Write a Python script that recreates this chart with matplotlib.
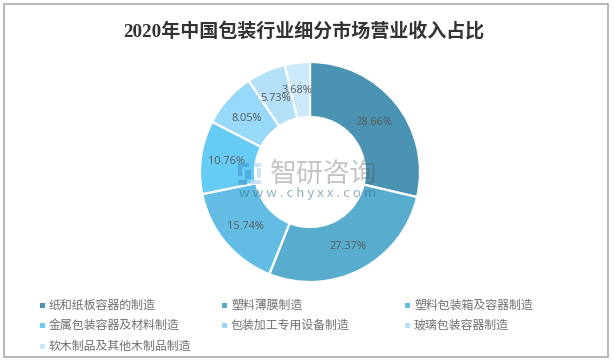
import math
import matplotlib
matplotlib.use("Agg")
import matplotlib.pyplot as plt
from matplotlib.patches import Rectangle

plt.rcParams['font.family'] = ['Noto Sans CJK SC', 'DejaVu Sans']

title = "2020年中国包装行业细分市场营业收入占比"
categories = ["纸和纸板容器的制造", "塑料薄膜制造", "塑料包装箱及容器制造", "金属包装容器及材料制造",
              "包装加工专用设备制造", "玻璃包装容器制造", "软木制品及其他木制品制造"]
values = [28.66, 27.37, 15.74, 10.76, 8.05, 5.73, 3.68]
colors = ["#4A93B3", "#58ADCE", "#62BCE3", "#66CCF6", "#98D8F8", "#B5E0F9", "#CBE9FB"]

W, H = 614, 362
fig = plt.figure(figsize=(W / 100, H / 100), dpi=100, facecolor="white")

bg = fig.add_axes([0, 0, 1, 1])
bg.set_xlim(0, W)
bg.set_ylim(H, 0)
bg.axis("off")
bg.add_patch(Rectangle((3.5, 4), 604, 353, fill=False, ec="#ABABAB", lw=1.2))
bg.text(304, 32, title, ha="center", va="center", fontsize=13.7,
        fontweight="bold", color="#333333", family=['Liberation Serif', 'Noto Sans CJK SC'])

# Donut: centre (310,172), outer radius 110 px
R = 110
ax = fig.add_axes([(310 - R) / W, 1 - (172 + R) / H, 2 * R / W, 2 * R / H])
wedges, texts = ax.pie(values, colors=colors, startangle=90, counterclock=False, radius=1,
                       wedgeprops=dict(width=0.5, edgecolor="white", linewidth=1.6))
ax.set_xlim(-1, 1)
ax.set_ylim(-1, 1)
ax.set_aspect("equal")

total = sum(values)
cum = 0
label_nudge = {0: (-0.01, -0.015), 1: (0.0, -0.01), 2: (-0.01, -0.015), 3: (-0.015, -0.01),
               4: (-0.01, -0.01), 5: (-0.01, -0.015), 6: (-0.03, 0.0)}
for i, v in enumerate(values):
    mid = 90 - 360 * (cum + v / 2) / total
    cum += v
    r = 0.75
    nx, ny = label_nudge[i]
    ax.text(r * math.cos(math.radians(mid)) + nx, r * math.sin(math.radians(mid)) + ny,
            f"{v:.2f}%", ha="center", va="center", fontsize=7.9, color="#595959",
            family=['Open Sans', 'DejaVu Sans'], clip_on=False)

# Watermark above the donut
top = fig.add_axes([0, 0, 1, 1], facecolor="none")
top.set_xlim(0, W)
top.set_ylim(H, 0)
top.axis("off")
top.text(324, 174, "智研咨询", ha="center", va="center", fontsize=19.4, color="#555555", alpha=0.35)
top.text(307.5, 193, "w w w . c h y x x . c o m", ha="center", va="center", fontsize=9.5,
         color="#2F6F8F", alpha=0.55)
top.add_patch(Rectangle((238, 163), 11, 3.5, fc="#3E8FC7", ec="none", alpha=0.55))
top.add_patch(Rectangle((238, 166.5), 3.5, 9, fc="#3E8FC7", ec="none", alpha=0.55))
top.add_patch(Rectangle((245, 170), 6, 9, fc="#3E8FC7", ec="none", alpha=0.5))
top.add_patch(Rectangle((238, 180), 9, 5, fc="#3E8FC7", ec="none", alpha=0.5))
top.add_patch(Rectangle((254, 163), 7, 3.5, fc="#BBDDF0", ec="none", alpha=0.75))
top.add_patch(Rectangle((257, 168), 4, 10, fc="#BBDDF0", ec="none", alpha=0.75))
top.add_patch(Rectangle((250, 180), 11, 4, fc="#BBDDF0", ec="none", alpha=0.75))

# Legend laid out in three columns
col_x = [40, 222, 405]
row_y = [305, 325.5, 346]
for i, name in enumerate(categories):
    x = col_x[i % 3]
    y = row_y[i // 3]
    top.add_patch(Rectangle((x, y - 2.5), 5, 5, fc=colors[i], ec="none"))
    top.text(x + 9, y, name, ha="left", va="center", fontsize=8.6, color="#707070")

fig.savefig("out.png", dpi=100)
